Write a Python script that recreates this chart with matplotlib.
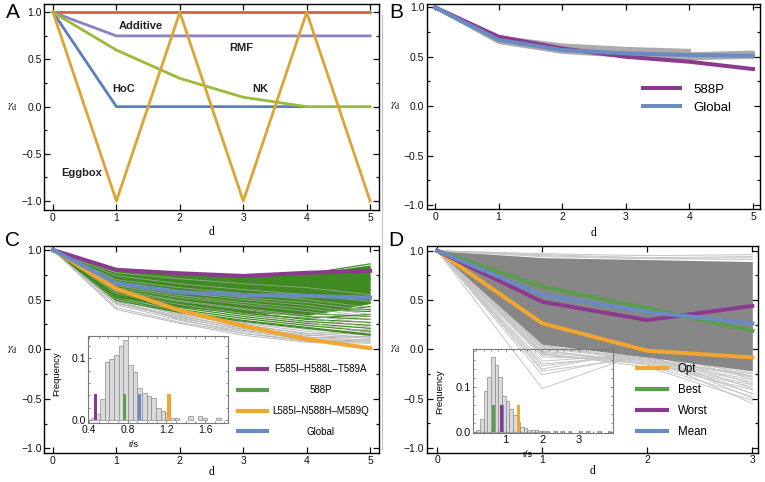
import numpy as np
import matplotlib
matplotlib.use('Agg')
import matplotlib.pyplot as plt
from matplotlib.lines import Line2D
from matplotlib.ticker import MultipleLocator

plt.rcParams['font.family'] = ['Liberation Sans', 'DejaVu Sans']
plt.rcParams['mathtext.fontset'] = 'stix'

# ─── Data ────────────────────────────────────────────────────────────
d5 = [0, 1, 2, 3, 4, 5]
d4 = [0, 1, 2, 3, 4]
d3 = [0, 1, 2, 3]
y_ticks = [-1.0, -0.5, 0.0, 0.5, 1.0]
y_ticklabels = ['\u22121.0', '\u22120.5', '0.0', '0.5', '1.0']

# A: model landscapes
a_additive = [1, 1, 1, 1, 1, 1]
a_rmf = [1, 0.75, 0.75, 0.75, 0.75, 0.75]
a_hoc = [1, 0, 0, 0, 0]
a_nk = [1, 0.60, 0.30, 0.10, 0.0, 0.0]
a_eggbox = [1, -1, 1, -1, 1, -1]

# B: 588P vs global
b_588p = [1, 0.703, 0.585, 0.50, 0.45, 0.376]
b_global = [1, 0.67, 0.568, 0.535, 0.518, 0.51]
b_gray = [
    [1, 0.700, 0.620, 0.585, 0.565, np.nan],
    [1, 0.690, 0.610, 0.570, 0.550, np.nan],
    [1, 0.680, 0.600, 0.560, 0.530, 0.548],
    [1, 0.670, 0.590, 0.550, 0.520, 0.535],
    [1, 0.660, 0.575, 0.540, 0.510, 0.525],
    [1, 0.655, 0.560, 0.525, 0.490, 0.500],
    [1, 0.650, 0.550, 0.510, 0.480, 0.495],
    [1, 0.645, 0.545, 0.505, 0.470, np.nan],
]

# C: neighbourhood of 588P
c_f585 = [1, 0.80, 0.765, 0.738, 0.77, 0.79]
c_global = [1, 0.665, 0.574, 0.547, 0.537, 0.52]
c_l585 = [1, 0.607, 0.39, 0.235, 0.10, 0.01]
c_green_hi = [1, 0.80, 0.76, 0.73, 0.76, 0.85]
c_green_lo = [1, 0.52, 0.43, 0.37, 0.34, 0.46]
c_green = [
    [1, 0.80, 0.76, 0.73, 0.76, 0.86],
    [1, 0.79, 0.75, 0.72, 0.75, 0.82],
    [1, 0.78, 0.73, 0.70, 0.72, 0.78],
    [1, 0.76, 0.70, 0.66, 0.67, 0.72],
    [1, 0.74, 0.66, 0.62, 0.61, 0.66],
    [1, 0.72, 0.63, 0.58, 0.56, 0.60],
    [1, 0.70, 0.60, 0.55, 0.52, 0.55],
    [1, 0.68, 0.58, 0.52, 0.48, 0.47],
    [1, 0.65, 0.54, 0.47, 0.42, 0.40],
    [1, 0.62, 0.50, 0.42, 0.36, 0.33],
    [1, 0.60, 0.48, 0.40, 0.33, 0.30],
    [1, 0.58, 0.46, 0.37, 0.30, 0.27],
    [1, 0.57, 0.44, 0.35, 0.28, 0.24],
    [1, 0.55, 0.42, 0.33, 0.26, 0.21],
    [1, 0.53, 0.40, 0.31, 0.24, 0.18],
    [1, 0.51, 0.38, 0.29, 0.22, 0.15],
    [1, 0.49, 0.37, 0.28, 0.21, 0.14],
    [1, 0.74, 0.62, 0.55, 0.60, 0.70],
    [1, 0.67, 0.60, 0.58, 0.62, 0.80],
    [1, 0.60, 0.50, 0.46, 0.45, 0.52],
    [1, 0.56, 0.47, 0.42, 0.40, 0.38],
    [1, 0.59, 0.47, 0.39, 0.35, 0.43],
    [1, 0.54, 0.43, 0.36, 0.31, 0.35],
]
c_gray_low = [
    [1, 0.40, 0.26, 0.14, 0.07, 0.06],
    [1, 0.42, 0.27, 0.16, 0.09, 0.07],
    [1, 0.45, 0.29, 0.18, 0.10, 0.08],
    [1, 0.47, 0.31, 0.20, 0.12, 0.09],
    [1, 0.48, 0.33, 0.22, 0.14, 0.11],
    [1, 0.50, 0.35, 0.24, 0.16, 0.12],
    [1, 0.49, 0.30, 0.16, 0.08, 0.10],
    [1, 0.52, 0.36, 0.26, 0.18, 0.14],
    [1, 0.54, 0.38, 0.27, 0.20, 0.16],
    [1, 0.46, 0.32, 0.19, 0.11, 0.13],
    [1, 0.51, 0.34, 0.21, 0.13, 0.18],
    [1, 0.53, 0.37, 0.25, 0.15, 0.20],
]
c_gray_mid = [
    [1, 0.56, 0.45, 0.36, 0.27, 0.17],
    [1, 0.58, 0.48, 0.40, 0.32, 0.22],
    [1, 0.60, 0.49, 0.41, 0.34, 0.26],
    [1, 0.62, 0.52, 0.45, 0.38, 0.30],
    [1, 0.64, 0.54, 0.47, 0.41, 0.33],
    [1, 0.66, 0.57, 0.50, 0.44, 0.35],
    [1, 0.68, 0.59, 0.52, 0.47, 0.39],
    [1, 0.70, 0.62, 0.56, 0.50, 0.42],
    [1, 0.74, 0.66, 0.60, 0.55, 0.48],
    [1, 0.77, 0.71, 0.66, 0.62, 0.55],
]
c_bin_left = [0.420, 0.468, 0.516, 0.564, 0.612, 0.660, 0.708, 0.756, 0.804,
              0.852, 0.900, 0.948, 0.996, 1.044, 1.092, 1.140, 1.188, 1.236,
              1.284, 1.428, 1.524, 1.572, 1.716]
c_freq = [0.003, 0.009, 0.034, 0.094, 0.099, 0.105, 0.119, 0.130, 0.089,
          0.078, 0.051, 0.043, 0.039, 0.036, 0.019, 0.014, 0.012, 0.003,
          0.003, 0.006, 0.006, 0.003, 0.003]
c_marks = [0.465, 0.764, 0.92, 1.227]   # F585I, 588P, Global, L585I (r/s)

# D: optimisation
d_opt = [1, 0.263, -0.015, -0.083]
d_best = [1, 0.635, 0.415, 0.188]
d_worst = [1, 0.482, 0.296, 0.44]
d_mean = [1, 0.55, 0.38, 0.262]
d_band_hi = [1, 0.93, 0.91, 0.89]
d_band_lo = [1, 0.05, -0.08, -0.22]
d_light = [
    [1, 0.97, 0.95, 0.96],
    [1, 0.96, 0.93, 0.94],
    [1, 0.95, 0.92, 0.93],
    [1, 0.94, 0.92, 0.91],
    [1, 0.06, -0.07, -0.24],
    [1, 0.03, -0.09, -0.27],
    [1, 0.02, -0.10, -0.28],
    [1, 0.01, -0.11, -0.31],
    [1, -0.02, -0.12, -0.33],
    [1, -0.03, -0.13, -0.36],
    [1, -0.05, -0.14, -0.38],
    [1, -0.06, -0.15, -0.41],
    [1, -0.08, -0.10, -0.45],
    [1, -0.12, -0.05, -0.50],
    [1, 0.00, -0.16, -0.48],
    [1, 0.04, -0.12, -0.25],
    [1, -0.04, -0.18, -0.52],
    [1, -0.22, -0.08, -0.55],
    [1, -0.40, -0.02, -0.30],
    [1, -0.26, -0.04, -0.35],
    [1, -0.20, 0.00, -0.28],
    [1, -0.17, -0.03, -0.40],
    [1, -0.15, -0.06, -0.45],
]
d_bin_left = [0.2, 0.3, 0.4, 0.5, 0.6, 0.7, 0.8, 0.9, 1.0, 1.1, 1.2, 1.3, 1.4,
              1.5, 1.6, 1.7, 1.8, 1.9, 2.0, 2.1, 2.3, 2.5, 2.7, 3.0, 3.2, 3.5, 3.8]
d_freq = [0.004, 0.028, 0.090, 0.122, 0.167, 0.148, 0.122, 0.080, 0.068, 0.050,
          0.037, 0.022, 0.009, 0.007, 0.004, 0.003, 0.003, 0.002, 0.002, 0.002,
          0.002, 0.002, 0.002, 0.002, 0.002, 0.002, 0.002]
d_marks = [0.675, 0.92, 0.89, 1.355]   # Best, Mean, Worst, Opt (r/s)

# ─── Colours ─────────────────────────────────────────────────────────
PURPLE = '#8c3a90'
BLUE = '#6a8bc2'
ORANGE = '#f0a630'
GREEN_DK = '#3f8a22'
GREEN = '#5c9e4e'
SERIF = ['Liberation Serif', 'DejaVu Serif']

W, H = 765, 482
fig = plt.figure(figsize=(W / 100, H / 100), dpi=100)


def box(l, r, t, b):
    return [l / W, 1 - b / H, (r - l) / W, (b - t) / H]


def frame(ax, xmax, xlim, ylim, xlab_y):
    ax.set_xlim(*xlim)
    ax.set_ylim(*ylim)
    ax.set_xticks(range(xmax + 1))
    ax.set_yticks(y_ticks)
    ax.set_yticklabels(y_ticklabels)
    ax.yaxis.set_minor_locator(MultipleLocator(0.25))
    ax.tick_params(which='both', direction='in', top=True, right=True,
                   labelsize=7.5, pad=2, width=0.9, colors='#111')
    ax.tick_params(which='major', length=4)
    ax.tick_params(which='minor', length=2.5)
    for s in ax.spines.values():
        s.set_linewidth(1.0)
    ax.text(-0.095, 0.5, r'$\gamma_{\mathrm{d}}$', transform=ax.transAxes,
            ha='center', va='center', fontsize=8.5)
    ax.set_xlabel('d', family=SERIF, fontsize=8.5)
    ax.xaxis.set_label_coords(0.5, xlab_y)


def inset_frame(ax, xlim, ylim, xmajor, xminor, xlab_x, ylab_x, ylab_y, fs):
    ax.set_facecolor('none')
    ax.set_xlim(*xlim)
    ax.set_ylim(*ylim)
    ax.xaxis.set_major_locator(MultipleLocator(xmajor))
    ax.xaxis.set_minor_locator(MultipleLocator(xminor))
    ax.yaxis.set_major_locator(MultipleLocator(0.1))
    ax.yaxis.set_minor_locator(MultipleLocator(0.02))
    ax.tick_params(which='both', direction='in', top=True, right=True,
                   labelsize=fs, pad=1.5, width=0.6, color='#777', labelcolor='#111')
    ax.tick_params(which='major', length=2.5)
    ax.tick_params(which='minor', length=1.3)
    for s in ax.spines.values():
        s.set_linewidth(0.8)
        s.set_color('#7a7a7a')
    ax.set_xlabel('r/s', fontsize=6.5, labelpad=0)
    ax.xaxis.set_label_coords(xlab_x, -0.2)
    ax.set_ylabel('Frequency', fontsize=6.8)
    ax.yaxis.set_label_coords(ylab_x, ylab_y)


# ─── A ───────────────────────────────────────────────────────────────
ax = fig.add_axes(box(44.3, 379, 4, 210))
ax.plot(d5, a_additive, color='#d9603c', lw=2.0)
ax.plot(d5, a_rmf, color='#8f80c4', lw=2.0)
ax.plot(d4, a_hoc, color='#5b7fbe', lw=2.0)
ax.plot(d5, a_nk, color='#9bba3a', lw=2.0)
ax.plot(d5, a_eggbox, color='#e0a232', lw=2.0)
for txt, x, y in [('Additive', 1.39, 0.85), ('RMF', 2.97, 0.625), ('HoC', 1.12, 0.185),
                  ('NK', 3.27, 0.185), ('Eggbox', 0.45, -0.70)]:
    ax.text(x, y, txt, ha='center', va='center', fontsize=8, fontweight='bold', color='#222')
frame(ax, 5, (-0.137, 5.14), (-1.095, 1.088), -0.08)

# ─── B ───────────────────────────────────────────────────────────────
ax = fig.add_axes(box(427, 760, 4, 209))
for row in b_gray:
    ax.plot(d5, row, color='#ababab', lw=2.2, zorder=1)
ax.plot(d5, b_588p, color=PURPLE, lw=2.9, label='588P', zorder=3)
ax.plot(d5, b_global, color=BLUE, lw=2.9, label='Global', zorder=4)
frame(ax, 5, (-0.126, 5.11), (-1.04, 1.034), -0.09)
ax.legend(loc='upper left', bbox_to_anchor=(0.649, 0.612), frameon=False, fontsize=9.5,
          handlelength=2.8, handletextpad=1.0, labelspacing=0.42, borderpad=0, borderaxespad=0)

# ─── C ───────────────────────────────────────────────────────────────
ax = fig.add_axes(box(44.3, 379, 246, 453.3))
for row in c_gray_low:
    ax.plot(d5, row, color='#b9b9b9', lw=0.7, zorder=1)
ax.fill_between(d5, c_green_lo, c_green_hi, color=GREEN_DK, lw=0, zorder=2)
for row in c_green:
    ax.plot(d5, row, color=GREEN_DK, lw=0.9, zorder=2)
for row in c_gray_mid:
    ax.plot(d5, row, color='#a8ada2', lw=0.6, alpha=0.85, zorder=3)
ax.plot(d5, c_f585, color=PURPLE, lw=2.9, zorder=5)
ax.plot(d5, c_l585, color=ORANGE, lw=2.9, zorder=5)
ax.plot(d5, c_global, color=BLUE, lw=2.9, zorder=6)
frame(ax, 5, (-0.137, 5.14), (-1.05, 1.04), -0.06)
handles = [Line2D([], [], color=PURPLE, lw=3), Line2D([], [], color=GREEN, lw=3),
           Line2D([], [], color=ORANGE, lw=3), Line2D([], [], color=BLUE, lw=3)]
leg_c = ax.legend(handles, ['F585I\u2013H588L\u2013T589A', '588P', 'L585I\u2013N588H\u2013M589Q', 'Global'],
                  loc='upper left', bbox_to_anchor=(0.579, 0.43), frameon=False, fontsize=7,
                  handlelength=3.0, handletextpad=0.5, labelspacing=1.12, borderpad=0, borderaxespad=0)

ins = fig.add_axes(box(88.3, 228.3, 336, 422.7))
ins.bar(c_bin_left, c_freq, width=0.048, align='edge', color='#dadada', edgecolor='#8c8c8c', lw=0.5)
ins.bar(c_marks, [0.042] * 4, width=0.033, color=[PURPLE, GREEN, BLUE, ORANGE], lw=0)
inset_frame(ins, (0.393, 1.84), (-0.0044, 0.136), 0.4, 0.1, 0.32, -0.19, 0.57, 7.5)

# ─── D ───────────────────────────────────────────────────────────────
ax = fig.add_axes(box(426.7, 758.3, 246, 452.7))
for row in d_light:
    ax.plot(d3, row, color='#c6c6c6', lw=0.7, zorder=1)
ax.fill_between(d3, d_band_lo, d_band_hi, color='#878787', lw=0, zorder=2)
ax.plot(d3, d_opt, color=ORANGE, lw=2.9, zorder=5)
ax.plot(d3, d_best, color=GREEN, lw=2.9, zorder=5)
ax.plot(d3, d_worst, color=PURPLE, lw=2.9, zorder=6)
ax.plot(d3, d_mean, color=BLUE, lw=2.9, zorder=7)
frame(ax, 3, (-0.10, 3.057), (-1.05, 1.048), -0.06)
handles = [Line2D([], [], color=ORANGE, lw=3), Line2D([], [], color=GREEN, lw=3),
           Line2D([], [], color=PURPLE, lw=3), Line2D([], [], color=BLUE, lw=3)]
ax.legend(handles, ['Opt', 'Best', 'Worst', 'Mean'], loc='upper left',
          bbox_to_anchor=(0.634, 0.435), frameon=False, fontsize=8.3,
          handlelength=2.6, handletextpad=0.95, labelspacing=0.8, borderpad=0, borderaxespad=0)

ins = fig.add_axes(box(472.7, 613.3, 349, 433.3))
ins.bar(d_bin_left, d_freq, width=0.1, align='edge', color='#dadada', edgecolor='#8c8c8c', lw=0.5)
ins.bar(d_marks, [0.059] * 4, width=0.09, color=[GREEN, BLUE, PURPLE, ORANGE], lw=0)
inset_frame(ins, (0.10, 3.95), (-0.004, 0.184), 1, 0.2, 0.39, -0.2, 0.49, 8)

# ─── Panel letters and separator ─────────────────────────────────────
for letter, x, y in [('A', 12.5, 12.5), ('B', 396, 12.5), ('C', 12.5, 241), ('D', 396, 241)]:
    fig.text(x / W, 1 - y / H, letter, ha='center', va='center', fontsize=15)
fig.add_artist(Line2D([381.5 / W] * 2, [1 - 15 / H, 1 - 450 / H], color='#c4c4c4', lw=0.8))

# centre the labels in panel C's legend column
fig.canvas.draw()
rend = fig.canvas.get_renderer()
texts = leg_c.get_texts()
widths = [t.get_window_extent(rend).width for t in texts]
for t, w in zip(texts, widths):
    t.set_position(((max(widths) - w) / 2, 0))

fig.savefig('out.png', dpi=100, facecolor='white')
